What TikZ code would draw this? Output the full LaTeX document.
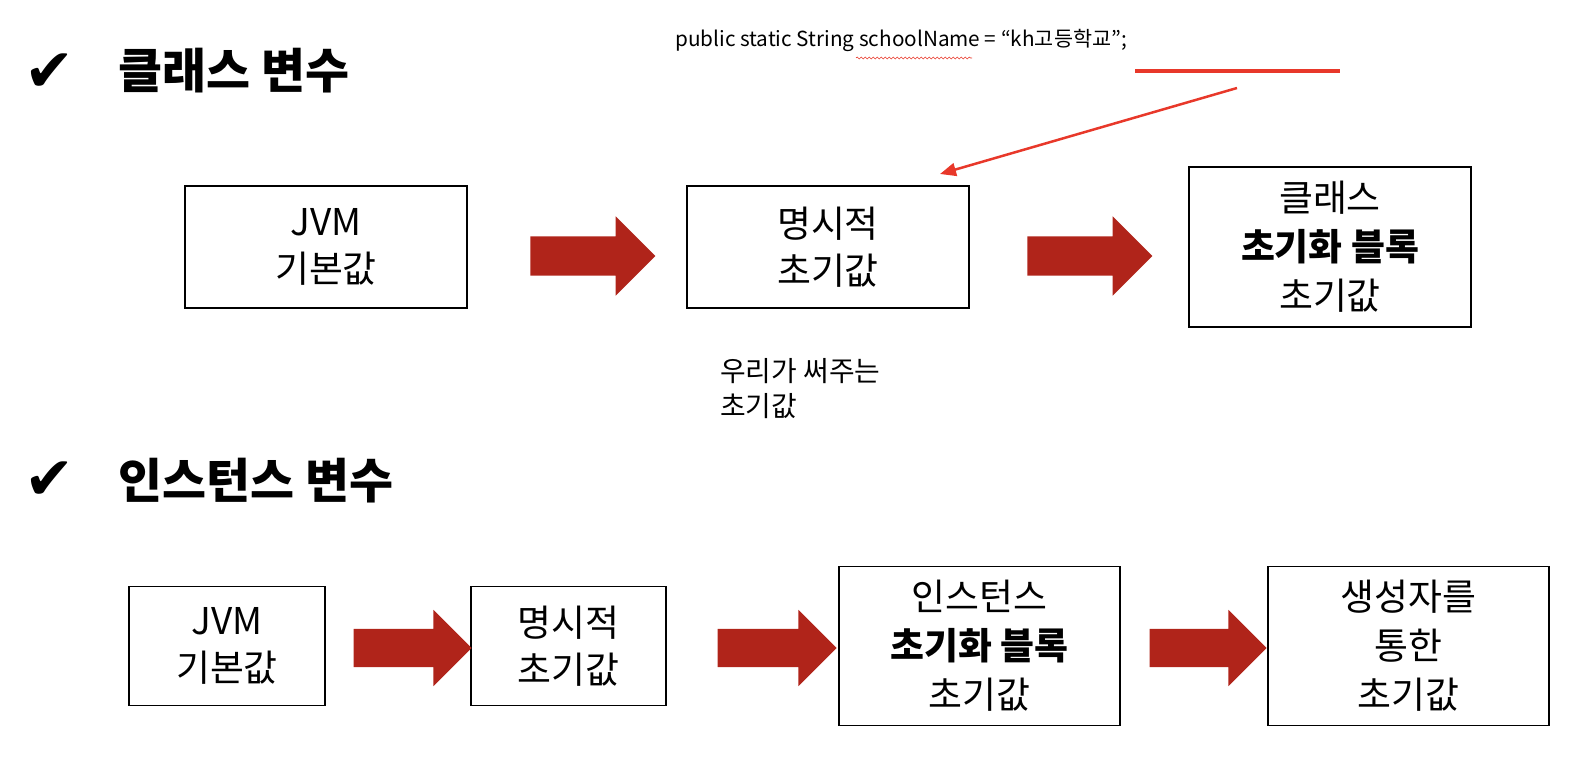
\documentclass[tikz,border=0pt]{standalone}
\usepackage{fontspec}
\setmainfont{Noto Sans CJK KR}
\newfontfamily\symfont{DejaVu Sans}
\usepackage{xcolor}
\usetikzlibrary{positioning,shapes.arrows,arrows.meta,decorations.pathmorphing}
\definecolor{arrowred}{RGB}{176,36,26}
\definecolor{penred}{RGB}{232,56,42}

\begin{document}
\begin{tikzpicture}[x=1bp, y=-1bp,
box/.style={rectangle, draw=black, fill=white, line width=1.3bp, minimum width=282bp, minimum height=122bp, align=center, inner sep=0pt, font=\fontsize{37}{47}\selectfont},
bigarrow/.style={single arrow, fill=arrowred, draw=none, inner xsep=0pt, inner ysep=19.5bp, single arrow head extend=20bp, minimum height=125bp},
heading/.style={anchor=west, inner sep=0pt, font=\fontsize{48}{52}\selectfont\bfseries},
tick/.style={inner sep=0pt, font=\fontsize{60}{62}\selectfont\symfont},
note/.style={inner sep=0pt, align=left, font=\fontsize{28}{35}\selectfont}
]
\useasboundingbox (0,0) rectangle (1578,764);

% class variables
\node[tick](cls_tick) at (50,73){✔};
\node[heading](cls_title) at (118,71){클래스 변수};
\node[box](cls_jvm) at (326,247){JVM\\기본값};
\node[box](cls_expl)[right of = cls_jvm, node distance=502bp]{명시적\\초기값};
\node[box, minimum height=160bp, font=\fontsize{37}{49}\selectfont](cls_block)[right of = cls_expl, node distance=502bp]{클래스\\\textbf{초기화 블록}\\초기값};
\node[bigarrow](cls_arr1) at (583,256){};
\node[bigarrow](cls_arr2) at (1080,256){};
\node[note, anchor=north west](cls_note) at (720,358){우리가 써주는\\초기값};

% the code line above
\node[inner sep=0pt, anchor=west, font=\fontsize{20.8}{24}\selectfont](code) at (675,40){public static String schoolName = “kh고등학교”;};
\coordinate (wave_l) at (856,58);
\coordinate (wave_r) at (972,58);
\coordinate (mark_l) at (1135,71);
\coordinate (mark_r) at (1340,71);
\coordinate (ptr_from) at (1237,88);
\coordinate (ptr_to) at (940,174);
\draw[penred, line width=0.6bp, decorate, decoration={snake, amplitude=1bp, segment length=4bp}] (wave_l) -- (wave_r);
\draw[penred, line width=3bp] (mark_l) -- (mark_r);
\draw[penred, line width=2.5bp, -{Triangle[length=16bp, width=13bp]}] (ptr_from) -- (ptr_to);

% instance variables
\node[tick](inst_tick) at (50,481){✔};
\node[heading](inst_title) at (118,481){인스턴스 변수};
\node[box, minimum width=196bp, minimum height=119bp](inst_jvm) at (227,646){JVM\\기본값};
\node[box, minimum width=195bp, minimum height=119bp](inst_expl)[right of = inst_jvm, node distance=341.5bp]{명시적\\초기값};
\node[box, minimum width=281bp, minimum height=159bp, font=\fontsize{37}{49}\selectfont](inst_block)[right of = inst_expl, node distance=411bp]{인스턴스\\\textbf{초기화 블록}\\초기값};
\node[box, minimum width=281bp, minimum height=159bp, font=\fontsize{37}{49}\selectfont](inst_ctor)[right of = inst_block, node distance=429bp]{생성자를\\통한\\초기값};
\node[bigarrow, minimum height=118bp, inner ysep=19bp, single arrow head extend=19bp](inst_arr1) at (403,648){};
\node[bigarrow, minimum height=119bp, inner ysep=19bp, single arrow head extend=19bp](inst_arr2) at (767.5,648){};
\node[bigarrow, minimum height=117bp, inner ysep=19bp, single arrow head extend=19bp](inst_arr3) at (1198.5,648){};

\end{tikzpicture}
\end{document}
